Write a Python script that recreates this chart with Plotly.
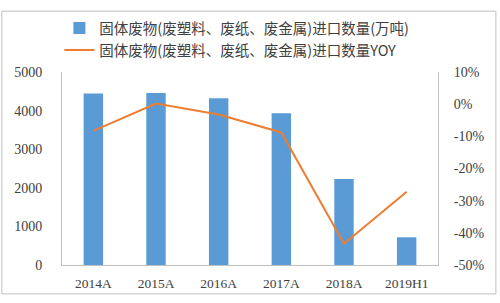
import plotly.graph_objects as go

categories = ["2014A", "2015A", "2016A", "2017A", "2018A", "2019H1"]
volume = [4443, 4458, 4318, 3933, 2225, 718]
yoy = [-8.3, 0.2, -3.2, -8.8, -43.4, -27.2]
left_ticks = [0, 1000, 2000, 3000, 4000, 5000]
right_ticks = [-50, -40, -30, -20, -10, 0, 10]

name_bar = "固体废物(废塑料、废纸、废金属)进口数量(万吨)"
name_line = "固体废物(废塑料、废纸、废金属)进口数量YOY"

fig = go.Figure()
fig.add_trace(go.Bar(x=categories, y=volume, name=name_bar,
                     marker=dict(color="#5B9BD5", line=dict(width=0)), yaxis="y"))
fig.add_trace(go.Scatter(x=categories, y=yoy, name=name_line, mode="lines",
                         line=dict(color="#ED7D31", width=2), yaxis="y2"))

tickfont = dict(family="Liberation Serif, serif", size=14, color="#404040")
xtickfont = dict(family="Liberation Serif, serif", size=13.5, color="#404040")
fig.update_layout(
    width=500, height=303,
    margin=dict(l=62, r=62, t=68, b=35),
    paper_bgcolor="white", plot_bgcolor="white",
    bargap=0.69,
    showlegend=True,
    legend=dict(orientation="v", x=-0.007, xanchor="left", y=1.31, yanchor="top",
                font=dict(family="Noto Sans CJK SC", size=14.5, color="#404040"),
                bgcolor="rgba(0,0,0,0)", tracegroupgap=0, itemwidth=30),
    xaxis=dict(showgrid=False, showline=True, linecolor="#BFBFBF", linewidth=1,
               tickfont=xtickfont, ticks="outside", ticklen=6, tickcolor="rgba(0,0,0,0)",
               fixedrange=True),
    yaxis=dict(range=[0, 5000], tickvals=left_ticks, showgrid=False, zeroline=False,
               showline=True, linecolor="#BFBFBF", linewidth=1, tickfont=tickfont,
               ticks="outside", ticklen=16, tickcolor="rgba(0,0,0,0)"),
    yaxis2=dict(range=[-50, 10], tickvals=right_ticks,
                ticktext=[f"{v}%" for v in right_ticks],
                overlaying="y", side="right", showgrid=False, zeroline=False,
                showline=True, linecolor="#BFBFBF", linewidth=1, tickfont=tickfont,
                ticks="outside", ticklen=12, tickcolor="rgba(0,0,0,0)"),
    shapes=[dict(type="rect", xref="paper", yref="paper",
                 x0=-0.16, x1=1.154, y0=-0.15, y1=1.315,
                 line=dict(color="#BFBFBF", width=1), fillcolor="rgba(0,0,0,0)",
                 layer="below")],
)
fig.write_html("out.html")
